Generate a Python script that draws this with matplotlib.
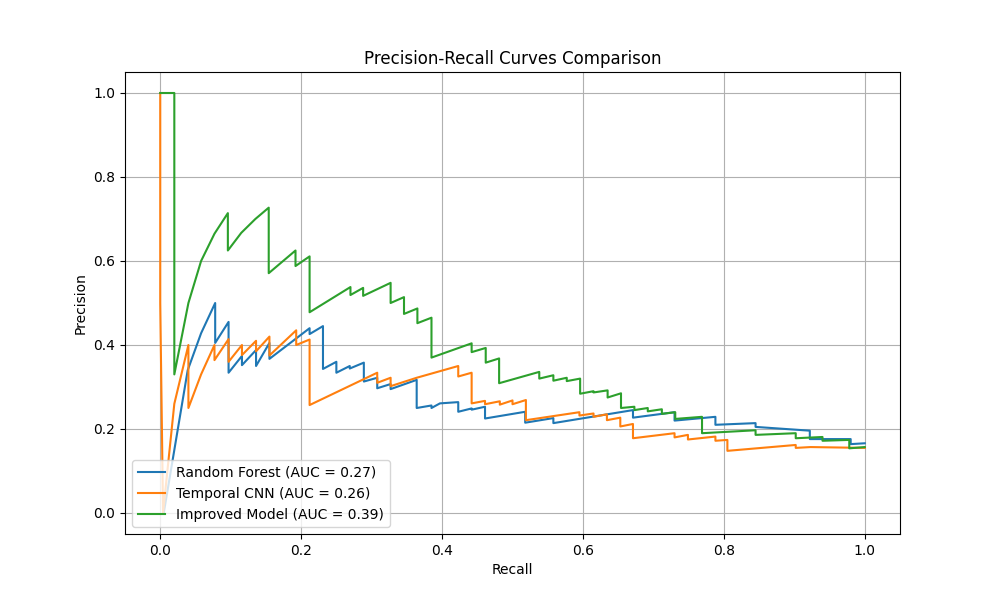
import matplotlib
import matplotlib.pyplot as plt

matplotlib.use("Agg")

# Random Forest PR curve (recall, precision)
rf_recall = [0.005, 0.039, 0.058, 0.078, 0.078, 0.097, 0.097, 0.116, 0.116, 0.136, 0.136,
             0.155, 0.155, 0.212, 0.212, 0.231, 0.231, 0.25, 0.25, 0.269, 0.269, 0.289,
             0.289, 0.308, 0.308, 0.327, 0.327, 0.364, 0.364, 0.385, 0.385, 0.397, 0.423,
             0.423, 0.442, 0.442, 0.461, 0.461, 0.518, 0.518, 0.558, 0.558, 0.671, 0.671,
             0.73, 0.73, 0.788, 0.788, 0.845, 0.845, 0.922, 0.922, 0.98, 0.98, 1.0]
rf_precision = [0.0, 0.34, 0.428, 0.5, 0.405, 0.455, 0.334, 0.374, 0.352, 0.388, 0.35,
                0.405, 0.367, 0.44, 0.426, 0.445, 0.343, 0.36, 0.334, 0.35, 0.344, 0.358,
                0.313, 0.322, 0.297, 0.307, 0.295, 0.317, 0.25, 0.256, 0.25, 0.261, 0.264,
                0.241, 0.249, 0.246, 0.253, 0.225, 0.241, 0.215, 0.226, 0.214, 0.245, 0.227,
                0.24, 0.22, 0.229, 0.21, 0.214, 0.205, 0.196, 0.176, 0.176, 0.164, 0.166]

# Temporal CNN PR curve
cnn_recall = [0.0, 0.0, 0.004, 0.02, 0.04, 0.04, 0.058, 0.077, 0.077, 0.097, 0.097, 0.116,
              0.116, 0.136, 0.136, 0.155, 0.155, 0.193, 0.193, 0.212, 0.212, 0.308, 0.308,
              0.327, 0.327, 0.364, 0.423, 0.423, 0.442, 0.442, 0.461, 0.461, 0.482, 0.482,
              0.5, 0.5, 0.519, 0.519, 0.595, 0.595, 0.615, 0.615, 0.634, 0.634, 0.653,
              0.653, 0.671, 0.671, 0.73, 0.73, 0.749, 0.749, 0.788, 0.788, 0.805, 0.805,
              0.902, 0.902, 0.923, 1.0]
cnn_precision = [1.0, 0.5, 0.0, 0.26, 0.4, 0.25, 0.33, 0.4, 0.364, 0.414, 0.36, 0.4,
                 0.376, 0.41, 0.385, 0.42, 0.375, 0.435, 0.4, 0.413, 0.257, 0.334, 0.31,
                 0.322, 0.302, 0.322, 0.35, 0.325, 0.334, 0.261, 0.267, 0.259, 0.266, 0.258,
                 0.268, 0.259, 0.269, 0.221, 0.24, 0.232, 0.237, 0.229, 0.235, 0.221, 0.227,
                 0.206, 0.212, 0.178, 0.19, 0.18, 0.186, 0.175, 0.182, 0.172, 0.174, 0.148,
                 0.162, 0.155, 0.157, 0.155]

# Improved Model PR curve
imp_recall = [0.0, 0.02, 0.02, 0.04, 0.058, 0.077, 0.096, 0.096, 0.115, 0.135, 0.154, 0.154,
              0.192, 0.192, 0.212, 0.212, 0.27, 0.27, 0.288, 0.288, 0.327, 0.327, 0.346,
              0.346, 0.365, 0.365, 0.385, 0.385, 0.442, 0.442, 0.462, 0.462, 0.481, 0.481,
              0.538, 0.538, 0.558, 0.558, 0.577, 0.577, 0.596, 0.596, 0.615, 0.615, 0.635,
              0.635, 0.654, 0.654, 0.673, 0.673, 0.692, 0.692, 0.712, 0.712, 0.731, 0.731,
              0.769, 0.769, 0.845, 0.845, 0.902, 0.902, 0.94, 0.94, 0.978, 0.978, 1.0]
imp_precision = [1.0, 1.0, 0.33, 0.5, 0.6, 0.665, 0.714, 0.625, 0.667, 0.70, 0.727, 0.571,
                 0.625, 0.588, 0.611, 0.478, 0.538, 0.519, 0.536, 0.517, 0.548, 0.5, 0.514,
                 0.474, 0.487, 0.452, 0.465, 0.37, 0.404, 0.383, 0.393, 0.358, 0.368, 0.309,
                 0.336, 0.32, 0.328, 0.315, 0.322, 0.314, 0.32, 0.284, 0.29, 0.287, 0.292,
                 0.275, 0.285, 0.25, 0.253, 0.245, 0.25, 0.242, 0.247, 0.236, 0.24, 0.224,
                 0.229, 0.19, 0.197, 0.186, 0.19, 0.178, 0.181, 0.172, 0.174, 0.154, 0.157]

labels = ["Random Forest (AUC = 0.27)", "Temporal CNN (AUC = 0.26)",
          "Improved Model (AUC = 0.39)"]

plt.figure(figsize=(10, 6))
plt.plot(rf_recall, rf_precision, label=labels[0])
plt.plot(cnn_recall, cnn_precision, label=labels[1])
plt.plot(imp_recall, imp_precision, label=labels[2])
plt.xlabel("Recall")
plt.ylabel("Precision")
plt.title("Precision-Recall Curves Comparison")
plt.legend(loc="lower left")
plt.grid(True)
plt.savefig("out.png", dpi=100)
plt.close()
